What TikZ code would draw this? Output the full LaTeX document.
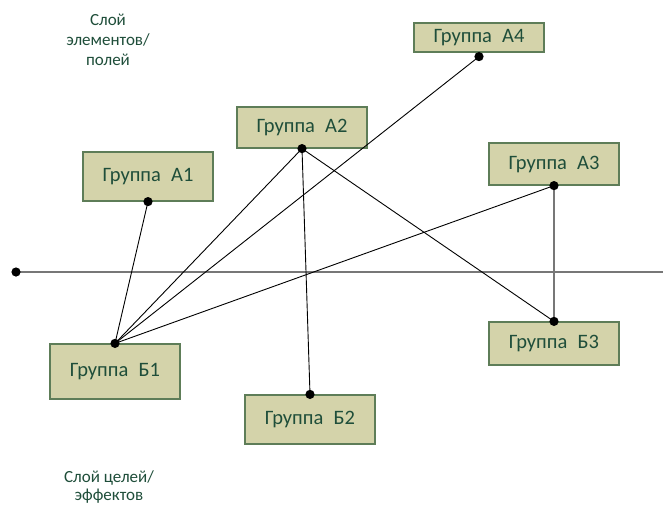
\documentclass[tikz,border=0pt]{standalone}
\usepackage{fontspec}
\setmainfont{Carlito}
\definecolor{txtgreen}{HTML}{1F4E3A}
\definecolor{boxfill}{HTML}{D4D3AA}
\definecolor{boxdraw}{HTML}{5E7D58}
\definecolor{axisgray}{HTML}{777777}
\begin{document}
\begin{tikzpicture}[x=1pt,y=-1pt,
  grp/.style={draw=boxdraw,line width=1.2pt,fill=boxfill,minimum width=130pt,inner sep=0pt,
    text=txtgreen,font=\fontsize{20.5}{24}\selectfont},
  lbl/.style={text=txtgreen,align=center,font=\fontsize{17}{20}\selectfont,inner sep=0pt},
  link/.style={black,line width=0.9pt},
  dotmark/.style={fill=black,draw=none}]
\useasboundingbox (0,0) rectangle (663,527);
\fill[white] (0,0) rectangle (663,527);
% boxes
\node[grp,minimum height=49pt] (A1) at (148,176.5) {Группа\hspace{0.5em}А1};
\node[grp,minimum height=41pt] (A2) at (302,127.5) {Группа\hspace{0.5em}А2};
\node[grp,minimum height=42pt] (A3) at (554,164) {Группа\hspace{0.5em}А3};
\node[grp,minimum height=29pt] (A4) at (479,37.5) {Группа\hspace{0.5em}А4};
\node[grp,minimum height=55pt] (B1) at (115,371.5) {Группа\hspace{0.5em}Б1};
\node[grp,minimum height=49pt] (B2) at (310,419.5) {Группа\hspace{0.5em}Б2};
\node[grp,minimum height=43pt] (B3) at (554,343.5) {Группа\hspace{0.5em}Б3};
% connection points
\coordinate (a1) at (A1.south);
\coordinate (a2) at (A2.south);
\coordinate (a3) at (A3.south);
\coordinate (a4) at ([yshift=-4pt]A4.south);
\coordinate (b1) at (B1.north);
\coordinate (b2) at (B2.north);
\coordinate (b3) at (B3.north);
% axis
\coordinate (L) at (16,272);
\coordinate (R) at (663,272);
\draw[axisgray,line width=1.4pt] (L) -- (R);
% links
\draw[link] (a1) -- (b1);
\draw[link] (a4) -- (b1);
\draw[link] (a2) -- (b1);
\draw[link] (a3) -- (b1);
\draw[link] (a2) -- (b2);
\draw[link] (a2) -- (b3);
\draw[axisgray,line width=1.3pt] (a3) -- (b3);
% dots
\foreach \p in {a1,a2,a3,a4,b1,b2,b3,L}
  \fill[dotmark] (\p) circle (4.6pt);
% layer labels
\node[lbl] (top) at (108,40) {Слой\\элементов/\\полей};
\node[lbl,font=\fontsize{17}{18}\selectfont] (bot) at (109,487) {Слой целей/\\эффектов};
\end{tikzpicture}
\end{document}
